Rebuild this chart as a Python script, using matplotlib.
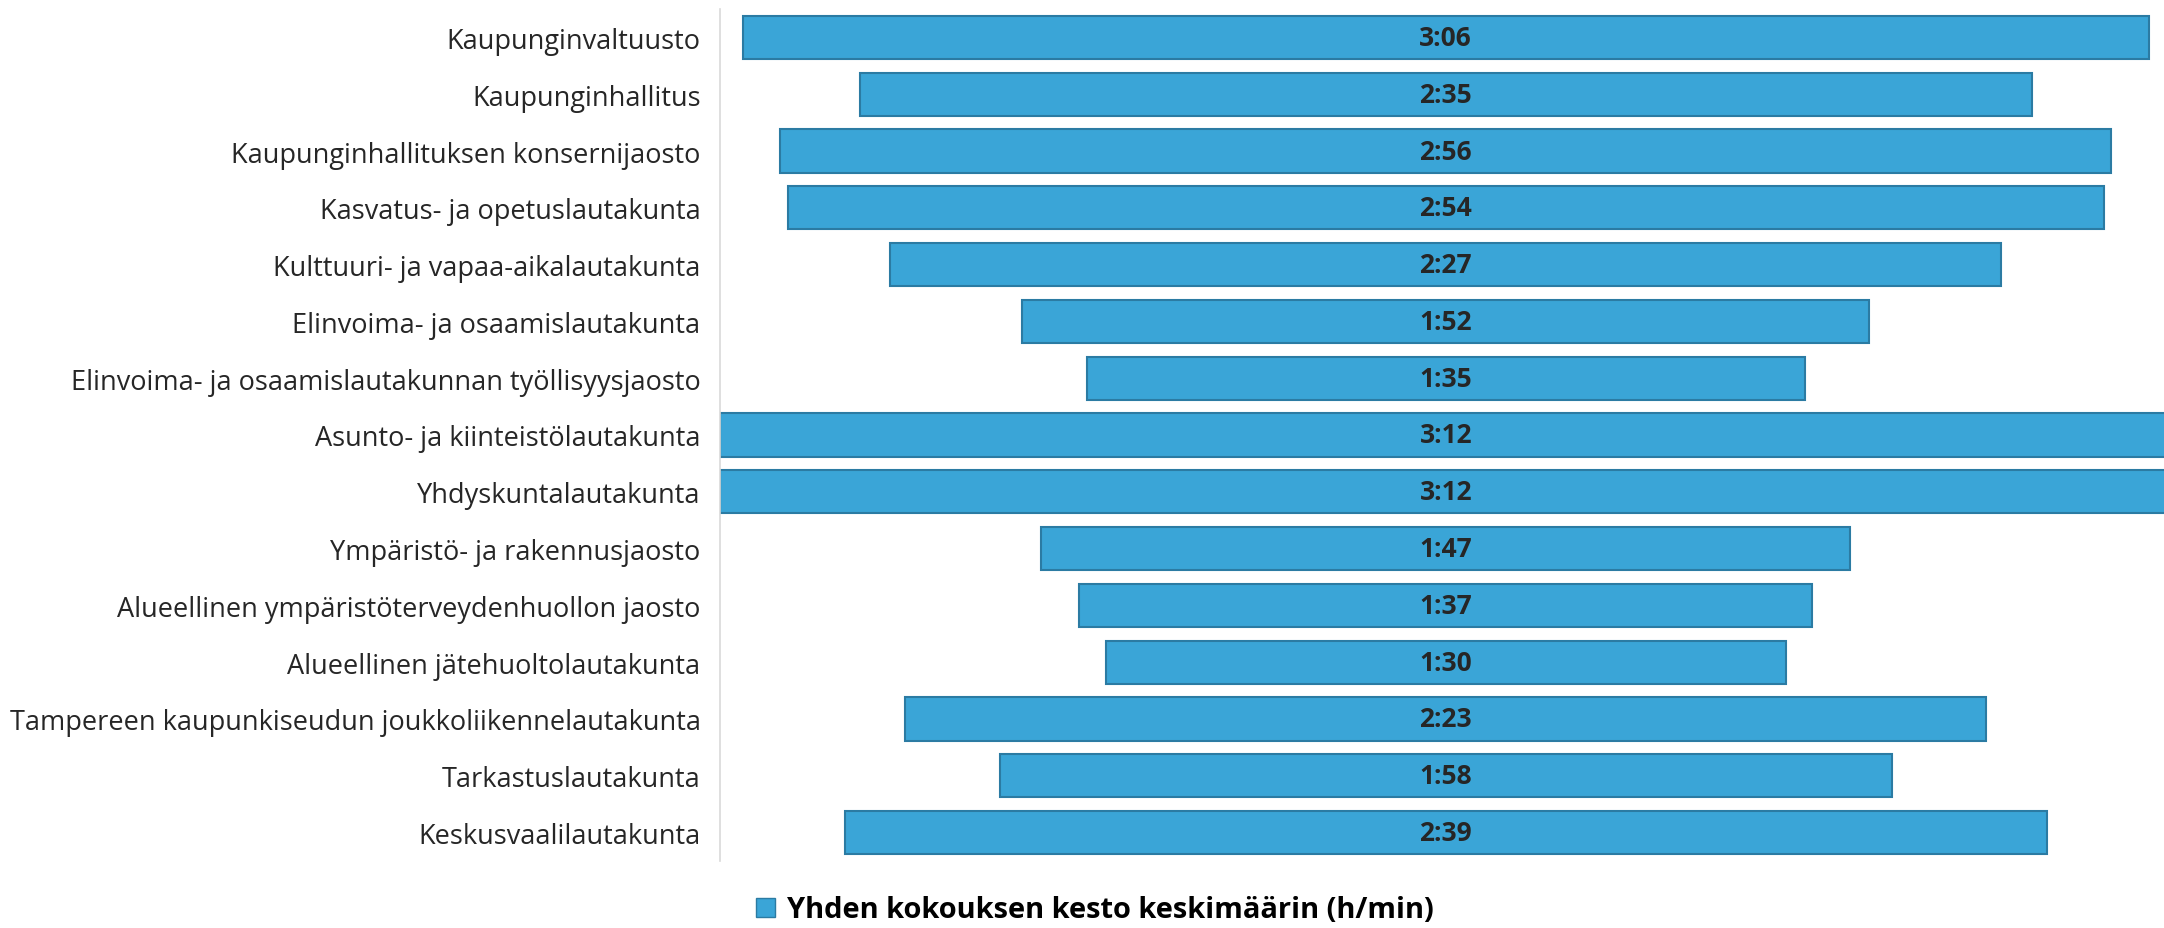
import matplotlib.pyplot as plt
from matplotlib.patches import Patch

plt.rcParams['font.family'] = ['Open Sans', 'DejaVu Sans']

# lautakunnat ja kokousten keskimääräinen kesto minuutteina
lautakunnat = [
    "Kaupunginvaltuusto",
    "Kaupunginhallitus",
    "Kaupunginhallituksen konsernijaosto",
    "Kasvatus- ja opetuslautakunta",
    "Kulttuuri- ja vapaa-aikalautakunta",
    "Elinvoima- ja osaamislautakunta",
    "Elinvoima- ja osaamislautakunnan työllisyysjaosto",
    "Asunto- ja kiinteistölautakunta",
    "Yhdyskuntalautakunta",
    "Ympäristö- ja rakennusjaosto",
    "Alueellinen ympäristöterveydenhuollon jaosto",
    "Alueellinen jätehuoltolautakunta",
    "Tampereen kaupunkiseudun joukkoliikennelautakunta",
    "Tarkastuslautakunta",
    "Keskusvaalilautakunta",
]
kesto_min = [186, 155, 176, 174, 147, 112, 95, 192, 192, 107, 97, 90, 143, 118, 159]
legend_label = "Yhden kokouksen kesto keskimäärin (h/min)"

bar_color = "#3aa5d7"
edge_color = "#2b7ba3"

fig = plt.figure(figsize=(21.64, 9.29), dpi=100)
W, H = 2164, 929
ax = fig.add_axes([720 / W, 1 - 862 / H, 1 - 720 / W, (862 - 10) / H])

y = list(range(len(lautakunnat)))
# keskitetyt palkit (suppilo)
lefts = [-m / 2 for m in kesto_min]
ax.barh(y, kesto_min, left=lefts, height=0.76, color=bar_color,
        edgecolor=edge_color, linewidth=1.5)

for yi, m in zip(y, kesto_min):
    ax.text(0, yi, f"{m // 60}:{m % 60:02d}", ha="center", va="center",
            fontsize=19, fontweight="bold", color="#262626")

ax.set_xlim(-96, 95)
ax.set_ylim(len(lautakunnat) - 0.5, -0.5)
ax.set_yticks(y)
ax.set_yticklabels(lautakunnat, fontsize=19.5, color="#262626")
ax.tick_params(axis="y", length=0, pad=14)
ax.set_xticks([])
for s in ["top", "right", "bottom"]:
    ax.spines[s].set_visible(False)
ax.spines["left"].set_color("#d9d9d9")
ax.spines["left"].set_linewidth(1.2)

handles = [Patch(facecolor=bar_color, edgecolor=edge_color, label=legend_label)]
fig.legend(handles=handles, loc="center", bbox_to_anchor=(1095 / W, 1 - 911 / H),
           frameon=False, prop={"size": 20.9, "weight": "bold"},
           handlelength=0.65, handleheight=0.65, handletextpad=0.4)

fig.savefig("out.png", dpi=100, facecolor="white")
